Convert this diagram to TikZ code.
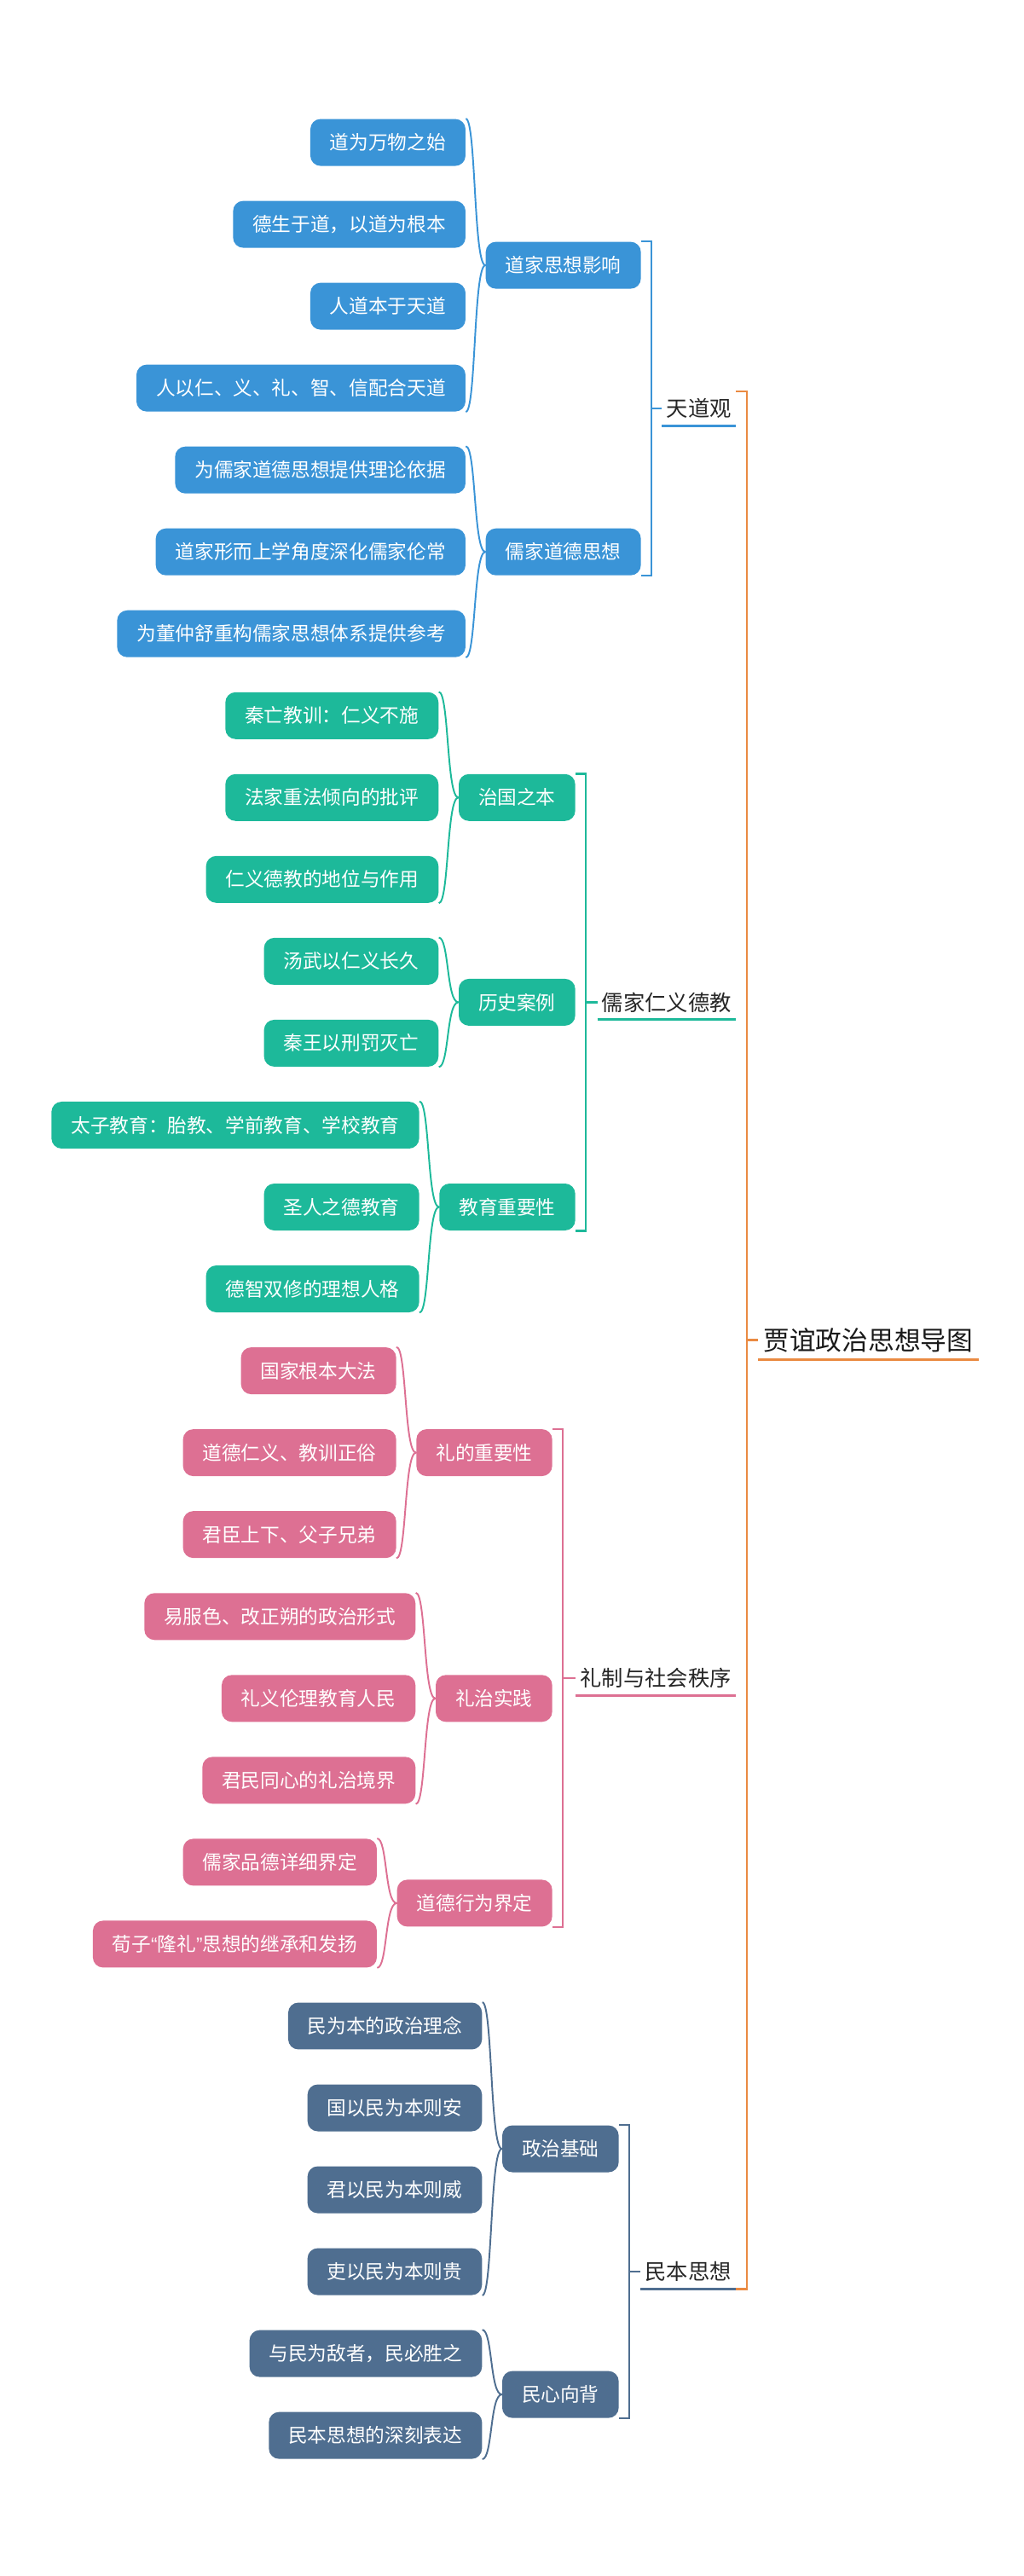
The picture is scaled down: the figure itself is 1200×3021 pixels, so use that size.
\documentclass[tikz,border=0pt]{standalone}
\usepackage{fontspec}
\setmainfont{Noto Sans CJK SC}
\newfontfamily\latinfont{Liberation Sans}
\definecolor{tdblue}{HTML}{3A94D7}
\definecolor{rjgreen}{HTML}{1DB99A}
\definecolor{lzpink}{HTML}{DD7093}
\definecolor{mbslate}{HTML}{4F6E90}
\definecolor{rootorange}{HTML}{EA8A42}
\begin{document}
\begin{tikzpicture}[x=0.02cm, y=-0.02cm,
  leaf/.style={fill=#1,text=white,rounded corners=0.24cm,minimum height=1.1cm,inner xsep=0.46cm,inner ysep=0pt,anchor=east,font=\fontsize{12.9}{15}\selectfont},
  topic/.style={minimum height=0.8cm,inner xsep=0.1cm,inner ysep=0pt,anchor=east,text=black!85,font=\fontsize{14.4}{17}\selectfont},
  brace/.style={draw=#1,line width=1.1pt},
  bracket/.style={draw=#1,line width=1.3pt},
  uline/.style={draw=#1,line width=1.7pt}]
\useasboundingbox (0,0) rectangle (1200,3021);
% 天道观
\node[leaf=tdblue] (s11) at (752,311.1) {道家思想影响};
\foreach \lab [count=\i from 0] in {道为万物之始,德生于道，以道为根本,人道本于天道,人以仁、义、礼、智、信配合天道}
  \node[leaf=tdblue,xshift=-0.46cm,yshift={(1.5-\i)*1.9208cm}] (s11-\i) at (s11.west) {\lab};
\node[leaf=tdblue] (s12) at (752,647.2) {儒家道德思想};
\foreach \lab [count=\i from 0] in {为儒家道德思想提供理论依据,道家形而上学角度深化儒家伦常,为董仲舒重构儒家思想体系提供参考}
  \node[leaf=tdblue,xshift=-0.46cm,yshift={(1-\i)*1.9208cm}] (s12-\i) at (s12.west) {\lab};
\node[topic] (t1) at (863,479.1) {天道观};
% 儒家仁义德教
\node[leaf=rjgreen] (s21) at (675,935.3) {治国之本};
\foreach \lab [count=\i from 0] in {秦亡教训：仁义不施,法家重法倾向的批评,仁义德教的地位与作用}
  \node[leaf=rjgreen,xshift=-0.46cm,yshift={(1-\i)*1.9208cm}] (s21-\i) at (s21.west) {\lab};
\node[leaf=rjgreen] (s22) at (675,1175.4) {历史案例};
\foreach \lab [count=\i from 0] in {汤武以仁义长久,秦王以刑罚灭亡}
  \node[leaf=rjgreen,xshift=-0.46cm,yshift={(0.5-\i)*1.9208cm}] (s22-\i) at (s22.west) {\lab};
\node[leaf=rjgreen] (s23) at (675,1415.5) {教育重要性};
\foreach \lab [count=\i from 0] in {太子教育：胎教、学前教育、学校教育,圣人之德教育,德智双修的理想人格}
  \node[leaf=rjgreen,xshift=-0.46cm,yshift={(1-\i)*1.9208cm}] (s23-\i) at (s23.west) {\lab};
\node[topic] (t2) at (863,1175.4) {儒家仁义德教};
% 礼制与社会秩序
\node[leaf=lzpink] (s31) at (648,1703.6) {礼的重要性};
\foreach \lab [count=\i from 0] in {国家根本大法,道德仁义、教训正俗,君臣上下、父子兄弟}
  \node[leaf=lzpink,xshift=-0.46cm,yshift={(1-\i)*1.9208cm}] (s31-\i) at (s31.west) {\lab};
\node[leaf=lzpink] (s32) at (648,1991.8) {礼治实践};
\foreach \lab [count=\i from 0] in {易服色、改正朔的政治形式,礼义伦理教育人民,君民同心的礼治境界}
  \node[leaf=lzpink,xshift=-0.46cm,yshift={(1-\i)*1.9208cm}] (s32-\i) at (s32.west) {\lab};
\node[leaf=lzpink] (s33) at (648,2231.9) {道德行为界定};
\foreach \lab [count=\i from 0] in {儒家品德详细界定,荀子{\latinfont “}隆礼{\latinfont ”}思想的继承和发扬}
  \node[leaf=lzpink,xshift=-0.46cm,yshift={(0.5-\i)*1.9208cm}] (s33-\i) at (s33.west) {\lab};
\node[topic] (t3) at (863,1967.7) {礼制与社会秩序};
% 民本思想
\node[leaf=mbslate] (s41) at (726,2520) {政治基础};
\foreach \lab [count=\i from 0] in {民为本的政治理念,国以民为本则安,君以民为本则威,吏以民为本则贵}
  \node[leaf=mbslate,xshift=-0.46cm,yshift={(1.5-\i)*1.9208cm}] (s41-\i) at (s41.west) {\lab};
\node[leaf=mbslate] (s42) at (726,2808.1) {民心向背};
\foreach \lab [count=\i from 0] in {与民为敌者，民必胜之,民本思想的深刻表达}
  \node[leaf=mbslate,xshift=-0.46cm,yshift={(0.5-\i)*1.9208cm}] (s42-\i) at (s42.west) {\lab};
\node[topic] (t4) at (863,2664.1) {民本思想};
% root
\node[minimum height=0.92cm,inner xsep=0.12cm,inner ysep=0pt,anchor=west,text=black!90,font=\fontsize{17.5}{20}\selectfont] (root) at (889,1571.6) {贾谊政治思想导图};
% braces leaf -> sub
\foreach \s/\n/\col in {s11/3/tdblue,s12/2/tdblue,s21/2/rjgreen,s22/1/rjgreen,s23/2/rjgreen,s31/2/lzpink,s32/2/lzpink,s33/1/lzpink,s41/3/mbslate,s42/1/mbslate}
  \draw[brace=\col] (\s-0.north east) .. controls +(12,0) and +(-14,0) .. (\s.west) .. controls +(-14,0) and +(12,0) .. (\s-\n.south east);
% brackets sub -> topic
\foreach \a/\b/\t/\col in {s11/s12/t1/tdblue,s21/s23/t2/rjgreen,s31/s33/t3/lzpink,s41/s42/t4/mbslate} {
  \coordinate (b\t) at ([xshift=0.24cm]\a.north east);
  \draw[bracket=\col] (\a.north east) -- (b\t) |- (\b.south east);
  \draw[bracket=\col] (b\t |- \t.west) -- (\t.west);
  \draw[uline=\col] (\t.south west) -- (\t.south east);
}
% main bracket
\coordinate (b0) at ([xshift=0.26cm]t1.north east);
\draw[bracket=rootorange] (t1.north east) -- (b0) |- (t4.south east);
\draw[bracket=rootorange] (b0 |- root.west) -- (root.west);
\draw[uline=rootorange] (root.south west) -- (root.south east);
\end{tikzpicture}
\end{document}
